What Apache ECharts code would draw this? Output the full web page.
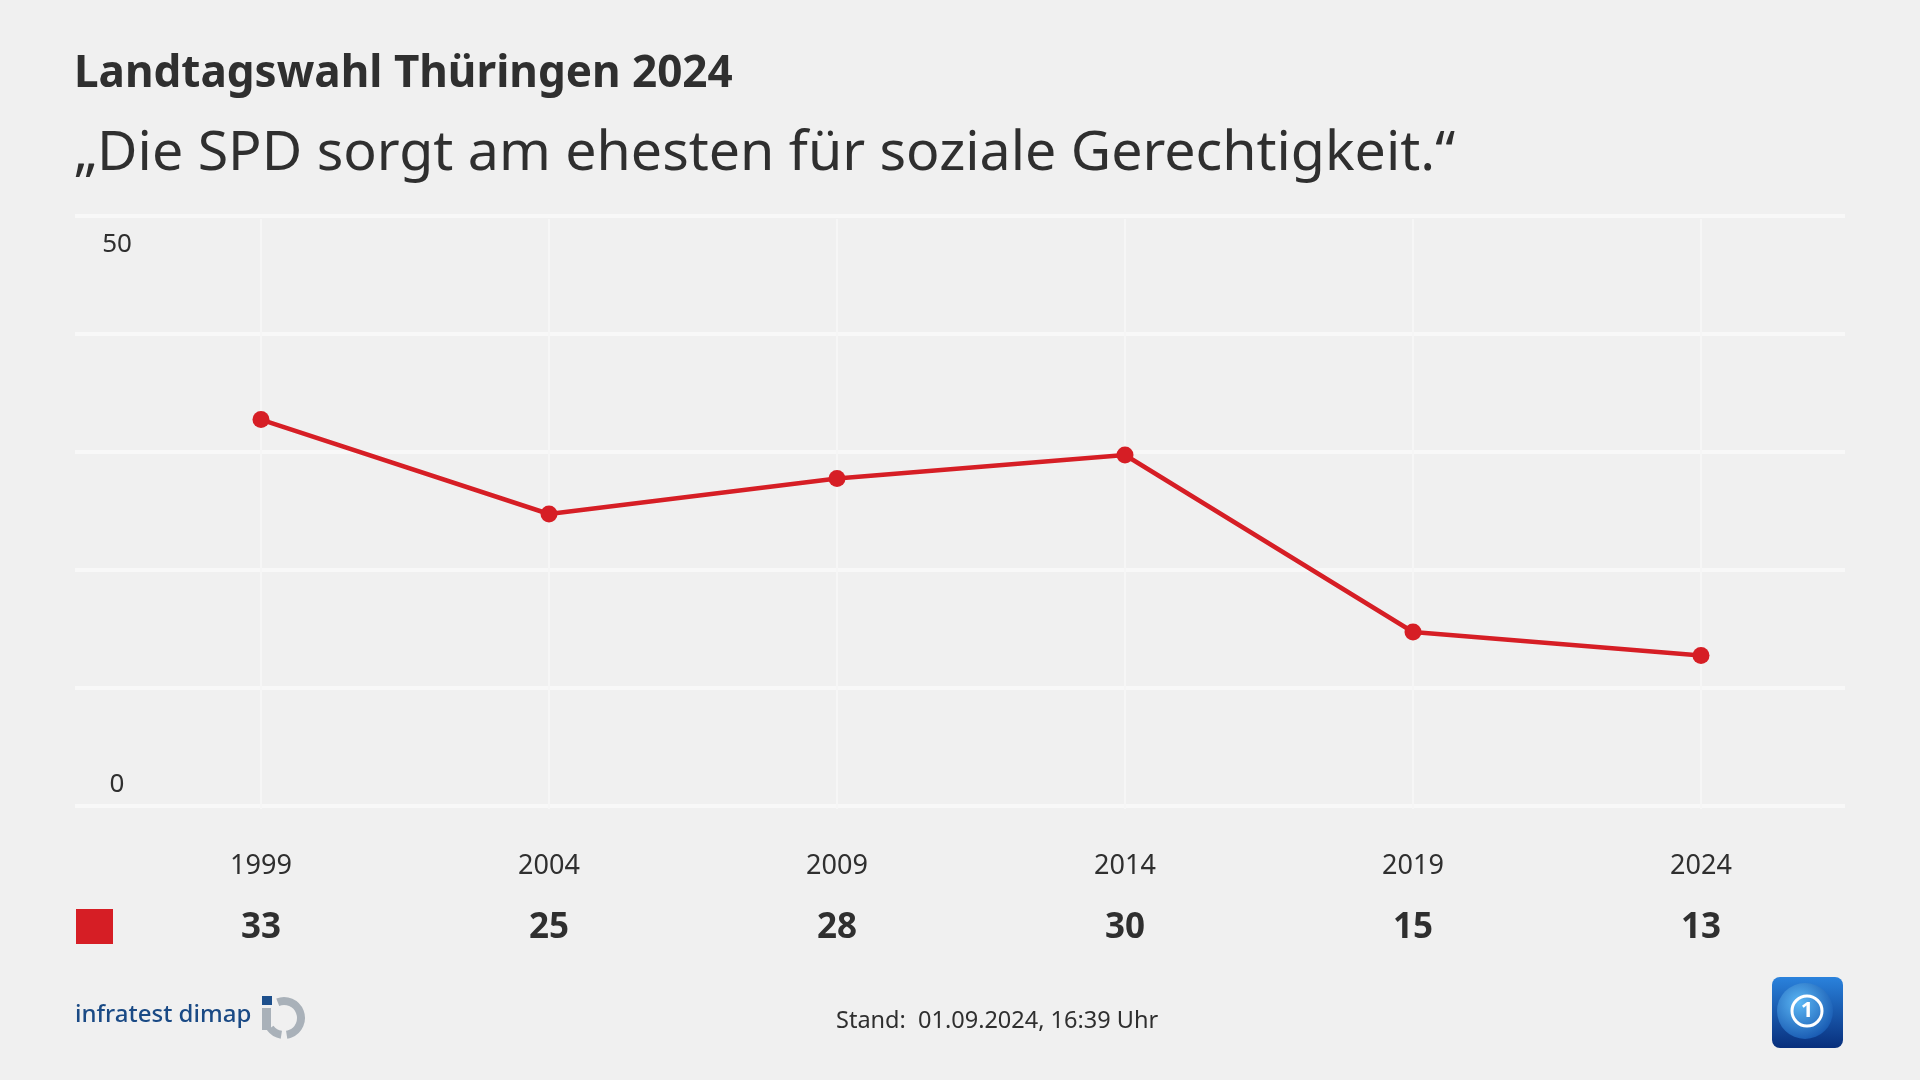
<!DOCTYPE html>
<html>
<head>
<meta charset="utf-8">
<title>Landtagswahl Thüringen 2024</title>
<script src="https://cdn.jsdelivr.net/npm/echarts@6/dist/echarts.min.js"></script>
<style>
  html, body { margin: 0; padding: 0; background: #f0f0f0; }
  #chart { width: 1920px; height: 1080px; }
</style>
</head>
<body>
<div id="chart"></div>
<script>
// Daten
const years = ['1999', '2004', '2009', '2014', '2019', '2024'];
const spdValues = [33, 25, 28, 30, 15, 13];
const yLabelValues = [0, 50];

const titleText = 'Landtagswahl Thüringen 2024';
const subTitleText = '„Die SPD sorgt am ehesten für soziale Gerechtigkeit.“';
const standText = 'Stand:  01.09.2024, 16:39 Uhr';

const red = '#d61e25';
const textColor = '#2f2f2f';
const font = '"Noto Sans", "Open Sans", sans-serif';

let myChart = echarts.init(document.getElementById('chart'));

let option = {
  backgroundColor: '#f0f0f0',
  textStyle: { fontFamily: font },
  animation: false,
  title: [
    {
      text: titleText,
      left: 74,
      top: 49,
      padding: 0,
      textStyle: { fontFamily: font, fontSize: 44, fontWeight: 'bold', color: textColor, lineHeight: 50 }
    },
    {
      text: subTitleText,
      left: 74,
      top: 119,
      padding: 0,
      textStyle: { fontFamily: font, fontSize: 55.5, fontWeight: 'normal', color: textColor, lineHeight: 70 }
    }
  ],
  legend: {
    data: ['SPD'],
    left: 76,
    top: 909,
    padding: 0,
    icon: 'rect',
    itemWidth: 37,
    itemHeight: 35,
    formatter: () => '',
    selectedMode: false
  },
  grid: [
    // nur für die waagerechten Linien + y-Beschriftung
    { left: 75, right: 75, top: 216, bottom: 274 },
    // Datenbereich
    { left: 261, right: 219, top: 219, bottom: 271 }
  ],
  xAxis: [
    { type: 'value', gridIndex: 0, show: false, min: 0, max: 1 },
    {
      type: 'category',
      gridIndex: 1,
      data: years,
      boundaryGap: false,
      axisLine: { show: false },
      axisTick: { show: false },
      splitLine: { show: true, lineStyle: { color: '#f6f6f6', width: 2 } },
      axisLabel: {
        margin: 27,
        formatter: (val, idx) => '{y|' + val + '}\n{v|' + spdValues[idx] + '}',
        rich: {
          y: { fontSize: 27, color: textColor, lineHeight: 60, fontFamily: font },
          v: { fontSize: 35, fontWeight: 'bold', color: textColor, lineHeight: 65, fontFamily: font }
        }
      }
    }
  ],
  yAxis: [
    {
      type: 'value',
      gridIndex: 0,
      min: 0,
      max: 50,
      interval: 10,
      axisLine: { show: false },
      axisTick: { show: false },
      splitLine: { show: true, lineStyle: { color: '#f8f8f8', width: 4 } },
      axisLabel: {
        inside: true,
        margin: 42,
        align: 'center',
        verticalAlign: 'middle',
        formatter: v => {
          if (v === yLabelValues[1]) return '{top|' + v + '}';
          if (v === yLabelValues[0]) return '{bot|' + v + '}';
          return '';
        },
        rich: {
          top: { fontSize: 26, color: textColor, padding: [58, 0, 0, 0], fontFamily: font },
          bot: { fontSize: 26, color: textColor, padding: [0, 0, 42, 0], fontFamily: font }
        }
      }
    },
    { type: 'value', gridIndex: 1, min: 0, max: 50, show: false }
  ],
  series: [
    {
      name: 'SPD',
      type: 'line',
      xAxisIndex: 1,
      yAxisIndex: 1,
      data: spdValues,
      symbol: 'circle',
      symbolSize: 17,
      itemStyle: { color: red },
      lineStyle: { color: red, width: 4.5 }
    }
  ],
  graphic: [
    {
      type: 'text',
      left: 836,
      top: 1009,
      style: { text: standText, font: '23.5px ' + font, fill: textColor }
    },
    // infratest dimap Logo
    {
      type: 'text',
      left: 75,
      top: 1003,
      style: { text: 'infratest dimap', font: '500 24px ' + font, fill: '#1a4a85' }
    },
    { type: 'rect', shape: { x: 262, y: 996, width: 10, height: 9 }, style: { fill: '#1d4f8c' } },
    { type: 'rect', shape: { x: 262, y: 1008, width: 9, height: 22 }, style: { fill: '#a9b1b9' } },
    {
      type: 'arc',
      shape: { cx: 284, cy: 1018, r: 17, startAngle: -Math.PI * 0.62, endAngle: Math.PI * 0.45, clockwise: true },
      style: { stroke: '#a9b1b9', lineWidth: 8, fill: null }
    },
    {
      type: 'arc',
      shape: { cx: 284, cy: 1018, r: 17, startAngle: Math.PI * 0.55, endAngle: Math.PI * 0.8, clockwise: true },
      style: { stroke: '#a9b1b9', lineWidth: 8, fill: null }
    },
    // tagesschau Logo
    {
      type: 'rect',
      shape: { x: 1772, y: 977, width: 71, height: 71, r: 8 },
      style: {
        fill: new echarts.graphic.LinearGradient(0, 0, 0, 1, [
          { offset: 0, color: '#2a82dc' },
          { offset: 1, color: '#082f7c' }
        ])
      }
    },
    {
      type: 'circle',
      shape: { cx: 1805, cy: 1011, r: 28 },
      style: {
        fill: new echarts.graphic.RadialGradient(0.4, 0.35, 0.8, [
          { offset: 0, color: '#5cb8f5' },
          { offset: 1, color: '#0d4aa6' }
        ])
      }
    },
    {
      type: 'circle',
      shape: { cx: 1807, cy: 1011, r: 15 },
      style: { fill: null, stroke: '#ffffff', lineWidth: 3 }
    },
    {
      type: 'text',
      x: 1807,
      y: 1011,
      style: { text: '1', font: 'bold 22px ' + font, fill: '#ffffff', align: 'center', verticalAlign: 'middle' }
    }
  ]
};

myChart.setOption(option);
</script>
</body>
</html>
